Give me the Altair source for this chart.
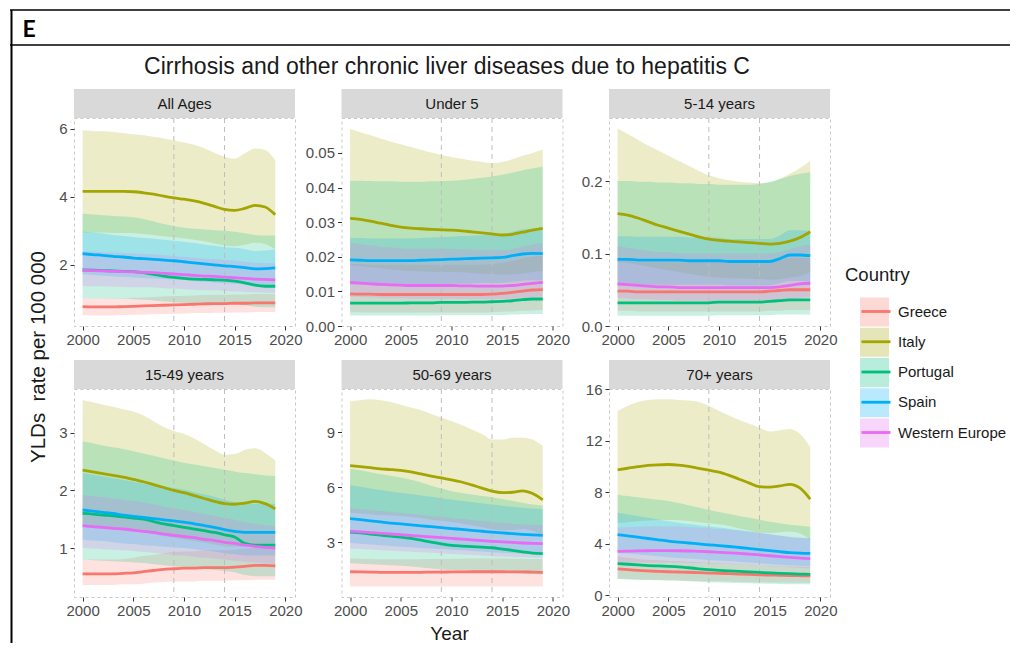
import altair as alt
import pandas as pd

YEARS = list(range(2000, 2020))
COUNTRIES = ["Greece", "Italy", "Portugal", "Spain", "Western Europe"]
COLORS = ["#F8766D", "#A3A500", "#00BF7D", "#00B0F6", "#E76BF3"]
PANELS = ["All Ages", "Under 5", "5-14 years", "15-49 years", "50-69 years", "70+ years"]
X_TICKS = [2000, 2005, 2010, 2015, 2020]
REF_YEARS = [2009, 2014]
TITLE = "Cirrhosis and other chronic liver diseases due to hepatitis C"
Y_TITLE = "YLDs\u00a0 rate per 100 000"
X_TITLE = "Year"
LEGEND_TITLE = "Country"
HEADER = "E"

Y_TICKS = {
    "All Ages": [2, 4, 6],
    "Under 5": [0.0, 0.01, 0.02, 0.03, 0.04, 0.05],
    "5-14 years": [0.0, 0.1, 0.2],
    "15-49 years": [1, 2, 3],
    "50-69 years": [3, 6, 9],
    "70+ years": [0, 4, 8, 12, 16],
}
Y_FMT = {"All Ages": ".0f", "Under 5": ".2f", "5-14 years": ".1f",
         "15-49 years": ".0f", "50-69 years": ".0f", "70+ years": ".0f"}
Y_DOMAIN = {"All Ages": [0.2, 6.32], "Under 5": [0.0, 0.0601], "5-14 years": [0.0, 0.287],
            "15-49 years": [0.15, 3.76], "50-69 years": [0.0, 11.36], "70+ years": [-0.14, 16.0]}

# ---------------- All Ages ----------------
AA_GRC = [0.77,0.76,0.76,0.76,0.77,0.78,0.79,0.80,0.81,0.82,0.83,0.84,0.85,0.86,0.86,0.87,0.87,0.88,0.88,0.88]
AA_GRC_LO = [0.52,0.51,0.51,0.51,0.52,0.53,0.54,0.55,0.55,0.56,0.57,0.58,0.58,0.59,0.59,0.60,0.60,0.61,0.61,0.61]
AA_GRC_HI = [1.02,1.01,1.01,1.01,1.02,1.03,1.04,1.05,1.07,1.08,1.09,1.10,1.11,1.12,1.12,1.13,1.13,1.14,1.14,1.14]
AA_ITA = [4.16,4.16,4.16,4.16,4.16,4.15,4.12,4.08,4.02,3.97,3.93,3.88,3.81,3.72,3.63,3.60,3.66,3.75,3.70,3.47]
AA_ITA_LO = [2.95,2.95,2.95,2.94,2.94,2.93,2.91,2.88,2.84,2.81,2.78,2.74,2.69,2.63,2.57,2.55,2.59,2.65,2.61,2.45]
AA_ITA_HI = [5.96,5.94,5.93,5.91,5.88,5.84,5.81,5.77,5.72,5.66,5.60,5.53,5.43,5.30,5.18,5.12,5.28,5.42,5.38,5.08]
AA_PRT = [1.85,1.84,1.83,1.82,1.81,1.80,1.77,1.72,1.67,1.63,1.60,1.58,1.57,1.56,1.55,1.52,1.47,1.40,1.37,1.37]
AA_PRT_LO = [1.02,1.01,1.01,1.00,1.00,0.99,0.97,0.95,0.92,0.90,0.88,0.87,0.86,0.86,0.85,0.84,0.81,0.77,0.75,0.75]
AA_PRT_HI = [3.50,3.48,3.46,3.44,3.42,3.40,3.35,3.28,3.20,3.14,3.09,3.06,3.04,3.02,3.00,2.97,2.93,2.88,2.86,2.86]
AA_ESP = [2.33,2.30,2.28,2.25,2.23,2.20,2.18,2.16,2.14,2.12,2.09,2.06,2.03,2.00,1.97,1.95,1.92,1.88,1.89,1.91]
AA_ESP_LO = [1.72,1.70,1.68,1.66,1.65,1.63,1.61,1.60,1.58,1.57,1.55,1.52,1.50,1.48,1.46,1.44,1.42,1.39,1.40,1.41]
AA_ESP_HI = [2.98,2.95,2.92,2.88,2.85,2.82,2.79,2.77,2.74,2.71,2.68,2.64,2.60,2.56,2.52,2.50,2.46,2.41,2.42,2.45]
AA_WEU = [1.84,1.83,1.82,1.81,1.80,1.79,1.78,1.77,1.75,1.73,1.71,1.69,1.67,1.66,1.64,1.62,1.60,1.58,1.57,1.56]
AA_WEU_LO = [1.38,1.37,1.37,1.36,1.35,1.34,1.34,1.33,1.31,1.30,1.28,1.27,1.25,1.25,1.23,1.22,1.20,1.19,1.18,1.17]
AA_WEU_HI = [2.40,2.39,2.37,2.36,2.35,2.33,2.32,2.31,2.28,2.26,2.23,2.21,2.18,2.17,2.14,2.12,2.09,2.06,2.05,2.04]

# ---------------- Under 5 ----------------
U5_GRC = [0.0093,0.0092,0.0092,0.0091,0.0091,0.0091,0.0091,0.0091,0.0091,0.0091,0.0091,0.0091,0.0091,0.0091,0.0092,0.0094,0.0097,0.0101,0.0104,0.0105]
U5_GRC_LO = [0.0040,0.0040,0.0039,0.0039,0.0039,0.0039,0.0039,0.0039,0.0039,0.0039,0.0039,0.0039,0.0039,0.0039,0.0040,0.0041,0.0042,0.0044,0.0045,0.0046]
U5_GRC_HI = [0.0180,0.0179,0.0178,0.0177,0.0177,0.0177,0.0177,0.0177,0.0177,0.0177,0.0177,0.0177,0.0177,0.0177,0.0179,0.0182,0.0188,0.0195,0.0200,0.0202]
U5_ITA = [0.0311,0.0308,0.0303,0.0297,0.0291,0.0286,0.0283,0.0281,0.0279,0.0278,0.0277,0.0275,0.0272,0.0269,0.0266,0.0263,0.0265,0.0271,0.0277,0.0282]
U5_ITA_LO = [0.0175,0.0173,0.0170,0.0167,0.0164,0.0161,0.0159,0.0158,0.0157,0.0156,0.0156,0.0155,0.0153,0.0151,0.0150,0.0148,0.0149,0.0152,0.0156,0.0159]
U5_ITA_HI = [0.0569,0.0560,0.0551,0.0542,0.0533,0.0525,0.0517,0.0509,0.0501,0.0494,0.0488,0.0483,0.0478,0.0474,0.0471,0.0474,0.0482,0.0492,0.0500,0.0510]
U5_PRT = [0.0066,0.0066,0.0066,0.0066,0.0066,0.0066,0.0067,0.0067,0.0067,0.0068,0.0068,0.0068,0.0069,0.0069,0.0070,0.0071,0.0073,0.0076,0.0078,0.0078]
U5_PRT_LO = [0.0030,0.0030,0.0030,0.0030,0.0030,0.0030,0.0030,0.0030,0.0030,0.0031,0.0031,0.0031,0.0031,0.0031,0.0032,0.0032,0.0033,0.0034,0.0035,0.0035]
U5_PRT_HI = [0.0420,0.0420,0.0419,0.0418,0.0418,0.0417,0.0417,0.0417,0.0418,0.0419,0.0420,0.0422,0.0425,0.0428,0.0432,0.0437,0.0443,0.0450,0.0455,0.0460]
U5_ESP = [0.0191,0.0190,0.0189,0.0189,0.0189,0.0189,0.0189,0.0190,0.0191,0.0192,0.0193,0.0194,0.0195,0.0196,0.0197,0.0198,0.0203,0.0208,0.0210,0.0209]
U5_ESP_LO = [0.0120,0.0119,0.0119,0.0119,0.0119,0.0119,0.0119,0.0120,0.0120,0.0121,0.0122,0.0122,0.0123,0.0124,0.0124,0.0125,0.0128,0.0131,0.0132,0.0132]
U5_ESP_HI = [0.0255,0.0254,0.0253,0.0253,0.0253,0.0253,0.0253,0.0254,0.0256,0.0257,0.0258,0.0260,0.0261,0.0262,0.0264,0.0265,0.0272,0.0279,0.0281,0.0280]
U5_WEU = [0.0126,0.0124,0.0122,0.0120,0.0119,0.0118,0.0117,0.0117,0.0117,0.0117,0.0117,0.0116,0.0116,0.0115,0.0115,0.0115,0.0117,0.0120,0.0123,0.0126]
U5_WEU_LO = [0.0085,0.0084,0.0083,0.0081,0.0080,0.0080,0.0079,0.0079,0.0079,0.0079,0.0079,0.0078,0.0078,0.0078,0.0078,0.0078,0.0079,0.0081,0.0083,0.0085]
U5_WEU_HI = [0.0240,0.0237,0.0233,0.0229,0.0227,0.0225,0.0223,0.0223,0.0223,0.0223,0.0223,0.0221,0.0221,0.0219,0.0219,0.0219,0.0223,0.0229,0.0235,0.0240]

# ---------------- 5-14 years ----------------
C514_GRC = [0.048,0.048,0.047,0.047,0.047,0.047,0.047,0.047,0.047,0.047,0.047,0.047,0.047,0.047,0.047,0.048,0.049,0.050,0.050,0.050]
C514_GRC_LO = [0.021,0.021,0.020,0.020,0.020,0.020,0.020,0.020,0.020,0.020,0.020,0.020,0.020,0.020,0.020,0.021,0.021,0.022,0.022,0.022]
C514_GRC_HI = [0.090,0.090,0.088,0.088,0.088,0.088,0.088,0.088,0.088,0.088,0.088,0.088,0.088,0.088,0.088,0.090,0.092,0.094,0.094,0.094]
C514_ITA = [0.155,0.153,0.149,0.144,0.139,0.135,0.131,0.127,0.123,0.120,0.118,0.117,0.116,0.115,0.114,0.113,0.114,0.117,0.122,0.130]
C514_ITA_LO = [0.088,0.087,0.085,0.082,0.079,0.077,0.075,0.072,0.070,0.068,0.067,0.066,0.066,0.065,0.065,0.064,0.065,0.067,0.069,0.074]
C514_ITA_HI = [0.272,0.265,0.257,0.249,0.242,0.235,0.228,0.221,0.214,0.208,0.204,0.201,0.199,0.198,0.197,0.198,0.203,0.210,0.218,0.228]
C514_PRT = [0.032,0.032,0.032,0.032,0.032,0.032,0.032,0.032,0.032,0.032,0.033,0.033,0.033,0.033,0.033,0.034,0.035,0.036,0.036,0.036]
C514_PRT_LO = [0.014,0.014,0.014,0.014,0.014,0.014,0.014,0.014,0.014,0.014,0.015,0.015,0.015,0.015,0.015,0.015,0.016,0.016,0.016,0.016]
C514_PRT_HI = [0.200,0.200,0.199,0.199,0.198,0.198,0.197,0.197,0.196,0.196,0.195,0.195,0.195,0.195,0.196,0.199,0.203,0.207,0.210,0.212]
C514_ESP = [0.092,0.092,0.091,0.091,0.091,0.091,0.091,0.090,0.090,0.090,0.090,0.089,0.089,0.089,0.089,0.089,0.093,0.098,0.098,0.097]
C514_ESP_LO = [0.058,0.058,0.057,0.057,0.057,0.057,0.057,0.057,0.057,0.057,0.057,0.056,0.056,0.056,0.056,0.056,0.059,0.062,0.062,0.061]
C514_ESP_HI = [0.124,0.124,0.123,0.123,0.123,0.123,0.123,0.122,0.122,0.122,0.122,0.120,0.120,0.120,0.120,0.120,0.125,0.132,0.132,0.131]
C514_WEU = [0.058,0.057,0.056,0.055,0.054,0.054,0.053,0.053,0.053,0.053,0.053,0.053,0.053,0.053,0.053,0.053,0.054,0.056,0.058,0.059]
C514_WEU_LO = [0.039,0.038,0.037,0.037,0.036,0.036,0.035,0.035,0.035,0.035,0.035,0.035,0.035,0.035,0.035,0.035,0.036,0.037,0.039,0.040]
C514_WEU_HI = [0.110,0.108,0.106,0.104,0.102,0.102,0.100,0.100,0.100,0.100,0.100,0.100,0.100,0.100,0.100,0.100,0.102,0.106,0.110,0.112]

# ---------------- 15-49 years ----------------
A1549_GRC = [0.55,0.55,0.55,0.55,0.56,0.57,0.59,0.61,0.63,0.64,0.65,0.65,0.66,0.66,0.66,0.67,0.68,0.70,0.70,0.69]
A1549_GRC_LO = [0.36,0.36,0.36,0.36,0.37,0.37,0.38,0.40,0.41,0.42,0.42,0.42,0.43,0.43,0.43,0.44,0.44,0.45,0.45,0.45]
A1549_GRC_HI = [0.80,0.80,0.80,0.80,0.81,0.83,0.86,0.88,0.91,0.93,0.94,0.94,0.96,0.96,0.96,0.97,0.99,1.01,1.01,1.00]
A1549_ITA = [2.35,2.32,2.29,2.26,2.23,2.19,2.15,2.10,2.05,2.00,1.96,1.91,1.86,1.81,1.77,1.76,1.78,1.81,1.77,1.68]
A1549_ITA_LO = [1.40,1.38,1.36,1.34,1.32,1.30,1.27,1.24,1.21,1.18,1.15,1.12,1.09,1.06,1.03,1.02,1.03,1.05,1.02,0.97]
A1549_ITA_HI = [3.57,3.53,3.49,3.45,3.41,3.37,3.30,3.20,3.10,3.03,2.98,2.90,2.80,2.70,2.62,2.63,2.70,2.73,2.65,2.52]
A1549_PRT = [1.60,1.59,1.57,1.56,1.54,1.52,1.50,1.46,1.42,1.39,1.36,1.33,1.30,1.27,1.23,1.19,1.08,1.05,1.05,1.05]
A1549_PRT_LO = [0.80,0.79,0.78,0.77,0.76,0.75,0.74,0.72,0.70,0.68,0.67,0.65,0.64,0.62,0.60,0.58,0.53,0.51,0.51,0.51]
A1549_PRT_HI = [2.85,2.82,2.78,2.75,2.72,2.68,2.64,2.60,2.56,2.52,2.48,2.45,2.42,2.39,2.36,2.33,2.30,2.28,2.26,2.25]
A1549_ESP = [1.66,1.64,1.62,1.60,1.57,1.55,1.53,1.51,1.49,1.47,1.45,1.42,1.39,1.36,1.32,1.29,1.27,1.27,1.27,1.27]
A1549_ESP_LO = [1.15,1.13,1.12,1.10,1.08,1.07,1.05,1.04,1.02,1.01,1.00,0.98,0.96,0.94,0.91,0.89,0.87,0.87,0.87,0.87]
A1549_ESP_HI = [2.30,2.27,2.24,2.21,2.18,2.15,2.12,2.09,2.07,2.04,2.01,1.97,1.93,1.89,1.84,1.80,1.77,1.77,1.77,1.77]
A1549_WEU = [1.39,1.37,1.36,1.34,1.33,1.31,1.29,1.27,1.24,1.22,1.20,1.18,1.15,1.13,1.10,1.08,1.05,1.03,1.01,1.00]
A1549_WEU_LO = [1.00,0.99,0.98,0.97,0.96,0.95,0.93,0.92,0.90,0.88,0.87,0.85,0.83,0.82,0.80,0.78,0.76,0.75,0.73,0.72]
A1549_WEU_HI = [1.92,1.90,1.88,1.86,1.84,1.82,1.79,1.76,1.72,1.69,1.66,1.63,1.59,1.56,1.52,1.49,1.45,1.42,1.40,1.38]

# ---------------- 50-69 years ----------------
A5069_GRC = [1.38,1.37,1.36,1.35,1.35,1.35,1.35,1.35,1.36,1.36,1.37,1.37,1.38,1.38,1.38,1.38,1.37,1.37,1.36,1.35]
A5069_GRC_LO = [0.58,0.58,0.57,0.57,0.57,0.57,0.57,0.57,0.57,0.57,0.58,0.58,0.58,0.58,0.58,0.58,0.58,0.58,0.57,0.57]
A5069_GRC_HI = [2.10,2.09,2.07,2.06,2.06,2.06,2.06,2.06,2.07,2.07,2.09,2.09,2.10,2.10,2.10,2.10,2.09,2.09,2.07,2.06]
A5069_ITA = [7.18,7.12,7.06,7.00,6.96,6.91,6.83,6.72,6.60,6.50,6.40,6.28,6.12,5.95,5.78,5.70,5.72,5.80,5.65,5.31]
A5069_ITA_LO = [4.60,4.56,4.52,4.48,4.45,4.42,4.37,4.30,4.22,4.16,4.10,4.02,3.92,3.81,3.70,3.65,3.66,3.71,3.62,3.40]
A5069_ITA_HI = [10.70,10.75,10.80,10.75,10.65,10.50,10.35,10.20,10.00,9.80,9.60,9.40,9.15,8.90,8.60,8.60,8.70,8.70,8.60,8.25]
A5069_PRT = [3.55,3.50,3.44,3.38,3.32,3.27,3.20,3.10,3.00,2.90,2.82,2.78,2.75,2.72,2.69,2.62,2.55,2.47,2.40,2.37]
A5069_PRT_LO = [1.85,1.82,1.79,1.76,1.73,1.70,1.66,1.61,1.56,1.51,1.47,1.45,1.43,1.41,1.40,1.36,1.33,1.28,1.25,1.23]
A5069_PRT_HI = [7.00,6.92,6.82,6.72,6.62,6.52,6.40,6.25,6.08,5.92,5.78,5.68,5.60,5.52,5.45,5.35,5.25,5.15,5.05,5.00]
A5069_ESP = [4.28,4.22,4.16,4.10,4.04,3.99,3.94,3.89,3.84,3.79,3.74,3.69,3.64,3.59,3.54,3.50,3.46,3.42,3.39,3.37]
A5069_ESP_LO = [2.95,2.91,2.87,2.83,2.79,2.75,2.72,2.68,2.65,2.62,2.58,2.55,2.51,2.48,2.44,2.42,2.39,2.36,2.34,2.33]
A5069_ESP_HI = [6.10,6.02,5.93,5.85,5.76,5.69,5.62,5.55,5.48,5.40,5.33,5.26,5.19,5.12,5.05,4.99,4.93,4.88,4.84,4.81]
A5069_WEU = [3.60,3.56,3.52,3.48,3.44,3.40,3.36,3.32,3.28,3.24,3.20,3.16,3.12,3.08,3.04,3.01,2.98,2.95,2.93,2.91]
A5069_WEU_LO = [2.65,2.62,2.59,2.56,2.53,2.50,2.47,2.44,2.41,2.38,2.35,2.32,2.29,2.26,2.23,2.21,2.19,2.17,2.15,2.14]
A5069_WEU_HI = [4.85,4.80,4.75,4.70,4.64,4.59,4.54,4.48,4.43,4.38,4.32,4.27,4.21,4.16,4.10,4.06,4.02,3.98,3.95,3.93]

# ---------------- 70+ years ----------------
A70_GRC = [2.05,1.98,1.92,1.88,1.85,1.82,1.80,1.78,1.75,1.72,1.70,1.67,1.64,1.61,1.58,1.56,1.54,1.52,1.51,1.50]
A70_GRC_LO = [1.30,1.26,1.22,1.20,1.18,1.16,1.15,1.13,1.11,1.09,1.08,1.06,1.04,1.02,1.00,0.99,0.98,0.97,0.96,0.95]
A70_GRC_HI = [3.00,2.90,2.81,2.75,2.71,2.66,2.63,2.60,2.56,2.52,2.49,2.44,2.40,2.36,2.31,2.28,2.25,2.23,2.21,2.20]
A70_ITA = [9.73,9.85,9.97,10.07,10.12,10.14,10.10,10.00,9.85,9.70,9.55,9.30,9.00,8.70,8.42,8.38,8.48,8.60,8.30,7.45]
A70_ITA_LO = [5.60,5.67,5.74,5.80,5.83,5.84,5.82,5.76,5.67,5.59,5.50,5.36,5.18,5.01,4.85,4.83,4.88,4.95,4.78,4.29]
A70_ITA_HI = [14.30,14.70,15.00,15.15,15.20,15.20,15.15,15.10,15.00,14.70,14.30,13.95,13.60,13.30,13.00,12.70,12.80,12.90,12.50,11.50]
A70_PRT = [2.45,2.40,2.35,2.30,2.27,2.24,2.20,2.13,2.05,1.98,1.93,1.89,1.85,1.81,1.77,1.73,1.70,1.67,1.64,1.62]
A70_PRT_LO = [1.25,1.22,1.20,1.17,1.16,1.14,1.12,1.09,1.05,1.01,0.98,0.96,0.94,0.92,0.90,0.88,0.87,0.85,0.84,0.83]
A70_PRT_HI = [7.80,7.70,7.60,7.50,7.40,7.30,7.15,6.98,6.80,6.62,6.45,6.30,6.15,6.00,5.85,5.70,5.58,5.47,5.38,5.30]
A70_ESP = [4.70,4.60,4.50,4.40,4.30,4.20,4.12,4.05,3.98,3.91,3.85,3.78,3.70,3.62,3.54,3.46,3.38,3.30,3.26,3.24]
A70_ESP_LO = [3.30,3.23,3.16,3.09,3.02,2.95,2.89,2.84,2.79,2.74,2.70,2.65,2.60,2.54,2.48,2.43,2.37,2.32,2.29,2.27]
A70_ESP_HI = [6.40,6.27,6.14,6.00,5.87,5.73,5.62,5.52,5.43,5.33,5.25,5.16,5.05,4.94,4.83,4.72,4.61,4.50,4.45,4.42]
A70_WEU = [3.40,3.42,3.44,3.45,3.46,3.46,3.45,3.43,3.40,3.37,3.33,3.29,3.24,3.19,3.13,3.06,3.00,2.94,2.88,2.84]
A70_WEU_LO = [2.50,2.51,2.53,2.54,2.54,2.54,2.54,2.52,2.50,2.48,2.45,2.42,2.38,2.35,2.30,2.25,2.21,2.16,2.12,2.09]
A70_WEU_HI = [5.25,5.28,5.31,5.33,5.34,5.34,5.33,5.30,5.25,5.20,5.14,5.08,5.00,4.93,4.83,4.73,4.63,4.54,4.45,4.39]

SERIES = {
    "All Ages": {"Greece": (AA_GRC, AA_GRC_LO, AA_GRC_HI), "Italy": (AA_ITA, AA_ITA_LO, AA_ITA_HI),
                 "Portugal": (AA_PRT, AA_PRT_LO, AA_PRT_HI), "Spain": (AA_ESP, AA_ESP_LO, AA_ESP_HI),
                 "Western Europe": (AA_WEU, AA_WEU_LO, AA_WEU_HI)},
    "Under 5": {"Greece": (U5_GRC, U5_GRC_LO, U5_GRC_HI), "Italy": (U5_ITA, U5_ITA_LO, U5_ITA_HI),
                "Portugal": (U5_PRT, U5_PRT_LO, U5_PRT_HI), "Spain": (U5_ESP, U5_ESP_LO, U5_ESP_HI),
                "Western Europe": (U5_WEU, U5_WEU_LO, U5_WEU_HI)},
    "5-14 years": {"Greece": (C514_GRC, C514_GRC_LO, C514_GRC_HI), "Italy": (C514_ITA, C514_ITA_LO, C514_ITA_HI),
                   "Portugal": (C514_PRT, C514_PRT_LO, C514_PRT_HI), "Spain": (C514_ESP, C514_ESP_LO, C514_ESP_HI),
                   "Western Europe": (C514_WEU, C514_WEU_LO, C514_WEU_HI)},
    "15-49 years": {"Greece": (A1549_GRC, A1549_GRC_LO, A1549_GRC_HI), "Italy": (A1549_ITA, A1549_ITA_LO, A1549_ITA_HI),
                    "Portugal": (A1549_PRT, A1549_PRT_LO, A1549_PRT_HI), "Spain": (A1549_ESP, A1549_ESP_LO, A1549_ESP_HI),
                    "Western Europe": (A1549_WEU, A1549_WEU_LO, A1549_WEU_HI)},
    "50-69 years": {"Greece": (A5069_GRC, A5069_GRC_LO, A5069_GRC_HI), "Italy": (A5069_ITA, A5069_ITA_LO, A5069_ITA_HI),
                    "Portugal": (A5069_PRT, A5069_PRT_LO, A5069_PRT_HI), "Spain": (A5069_ESP, A5069_ESP_LO, A5069_ESP_HI),
                    "Western Europe": (A5069_WEU, A5069_WEU_LO, A5069_WEU_HI)},
    "70+ years": {"Greece": (A70_GRC, A70_GRC_LO, A70_GRC_HI), "Italy": (A70_ITA, A70_ITA_LO, A70_ITA_HI),
                  "Portugal": (A70_PRT, A70_PRT_LO, A70_PRT_HI), "Spain": (A70_ESP, A70_ESP_LO, A70_ESP_HI),
                  "Western Europe": (A70_WEU, A70_WEU_LO, A70_WEU_HI)},
}

# ---------------- layout / style ----------------
W, H = 221, 208
STRIP_H = 29
FONT = "Liberation Sans"
X_DOMAIN = [1999.15, 2020.95]
LEG_X, LEG_Y = 786, 179.5
BAND_OPACITY = 0.21

fill_legend = alt.Legend(orient="none", legendX=LEG_X, legendY=LEG_Y, title=None, padding=0,
                         symbolType="square", symbolSize=841, symbolOpacity=0.28, symbolStrokeWidth=0,
                         labelOpacity=0, labelExpr="''", rowPadding=1.25, labelFontSize=15, labelOffset=6)
stroke_legend = alt.Legend(orient="none", legendX=LEG_X, legendY=LEG_Y - 2, title=None, padding=0,
                           symbolType="stroke", symbolSize=841, symbolStrokeWidth=2.8,
                           rowPadding=6.25, labelFontSize=15, labelOffset=6,
                           labelColor="#1a1a1a", labelFont=FONT)


def panel_frame(name):
    rows = []
    for c in COUNTRIES:
        mean, lo, hi = SERIES[name][c]
        for yr, m, l, h in zip(YEARS, mean, lo, hi):
            rows.append({"year": yr, "country": c, "band": c, "mean": m, "lo": l, "hi": h})
    return pd.DataFrame(rows)


one = pd.DataFrame({"k": [0]})


def make_panel(i, name):
    df = panel_frame(name)
    x_axis = alt.Axis(values=X_TICKS, format="d", title=None, grid=False, domain=False,
                      tickSize=4, labelPadding=2)
    x_scale = alt.Scale(domain=X_DOMAIN, nice=False, zero=False)
    y_axis = alt.Axis(values=Y_TICKS[name], format=Y_FMT[name], title=None, grid=False,
                      domain=False, tickSize=4, labelPadding=3)
    y_scale = alt.Scale(domain=Y_DOMAIN[name], nice=False, zero=False)
    X = alt.X("year:Q", scale=x_scale, axis=x_axis)

    strip = alt.Chart(pd.DataFrame({"label": [name]})).mark_rect(color="#d9d9d9").encode(
        x=alt.value(0), x2=alt.value(W), y=alt.value(-STRIP_H), y2=alt.value(0))
    strip_txt = alt.Chart(pd.DataFrame({"label": [name]})).mark_text(
        fontSize=15, color="#1a1a1a", font=FONT, baseline="middle").encode(
        x=alt.value(W / 2), y=alt.value(-STRIP_H / 2), text="label:N")

    bands = alt.Chart(df).mark_area(opacity=BAND_OPACITY, strokeWidth=0, interpolate="monotone").encode(
        x=X, y=alt.Y("lo:Q", scale=y_scale, axis=y_axis), y2="hi",
        fill=alt.Fill("band:N", scale=alt.Scale(domain=COUNTRIES, range=COLORS), legend=fill_legend))
    vlines = alt.Chart(pd.DataFrame({"year": REF_YEARS})).mark_rule(
        color="#bdbdbd", strokeDash=[5, 4], strokeWidth=1).encode(x=X)
    lines = alt.Chart(df).mark_line(strokeWidth=2.8, interpolate="monotone").encode(
        x=X, y=alt.Y("mean:Q", scale=y_scale, axis=y_axis),
        stroke=alt.Stroke("country:N", scale=alt.Scale(range=COLORS), legend=stroke_legend))

    layers = [strip, bands, vlines, lines, strip_txt]

    if i == 0:
        layers += [
            alt.Chart(one).mark_rule(color="#000000", strokeWidth=1.5).encode(
                x=alt.value(-64), x2=alt.value(936), y=alt.value(-108)),
            alt.Chart(one).mark_rule(color="#000000", strokeWidth=1.5).encode(
                x=alt.value(-64), x2=alt.value(936), y=alt.value(-73)),
            alt.Chart(one).mark_rule(color="#000000", strokeWidth=2).encode(
                x=alt.value(-62.5), y=alt.value(-108), y2=alt.value(525)),
            alt.Chart(one).mark_text(font="Lato", fontWeight="bold", fontSize=23, align="left",
                                     baseline="alphabetic", color="#000000").encode(
                x=alt.value(-51.5), y=alt.value(-81), text=alt.value(HEADER)),
            alt.Chart(one).mark_text(font=FONT, fontSize=20.5, angle=270, align="center",
                                     baseline="middle", color="#1a1a1a").encode(
                x=alt.value(-35), y=alt.value(239), text=alt.value(Y_TITLE)),
        ]
    if i == 1:
        layers.append(alt.Chart(one).mark_text(font=FONT, fontSize=23, align="center",
                                               baseline="alphabetic", color="#1a1a1a").encode(
            x=alt.value(105.5), y=alt.value(-44), text=alt.value(TITLE)))
    if i == 2:
        layers.append(alt.Chart(one).mark_text(font=FONT, fontSize=18.5, align="left",
                                               baseline="alphabetic", color="#1a1a1a").encode(
            x=alt.value(236), y=alt.value(163), text=alt.value(LEGEND_TITLE)))
    if i == 4:
        layers.append(alt.Chart(one).mark_text(font=FONT, fontSize=19, align="center",
                                               baseline="middle", color="#1a1a1a").encode(
            x=alt.value(108), y=alt.value(245), text=alt.value(X_TITLE)))

    return alt.layer(*layers).properties(width=W, height=H)


panels = [make_panel(i, n) for i, n in enumerate(PANELS)]

chart = alt.concat(*panels, columns=3, spacing={"row": 63, "column": 46.5},
                   bounds="flush", align="all").properties(
    padding={"left": 0, "top": 0, "right": 0, "bottom": 0}
).configure(font=FONT).configure_view(
    stroke="#c8c8c8", strokeDash=[3, 3], strokeWidth=1
).configure_axis(
    labelFont=FONT, labelFontSize=15, labelColor="#4d4d4d", tickColor="#333333", tickWidth=1
).configure_legend(labelFont=FONT)

chart.save("out.html", embed_options={"renderer": "svg", "actions": False})
